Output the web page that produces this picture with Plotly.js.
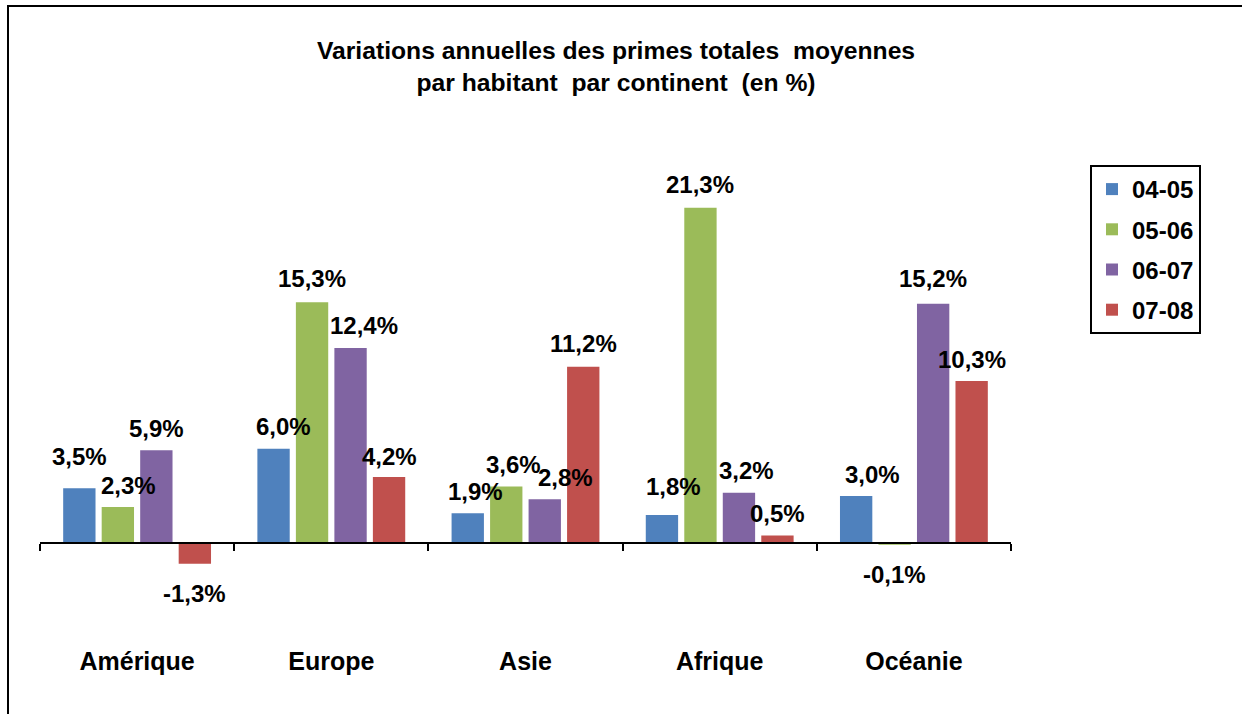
<!DOCTYPE html>
<html>
<head>
<meta charset="utf-8">
<script src="https://cdn.plot.ly/plotly-3.0.1.min.js"></script>
<style>
  html, body { margin: 0; padding: 0; overflow: hidden; background: #fff; }
  #wrap { position: relative; width: 1242px; height: 714px; }
  #chart { width: 1242px; height: 714px; }
  #frame { position: absolute; left: 7px; top: 5px; width: 1400px; height: 900px;
           border-left: 2px solid #000; border-top: 2px solid #000; pointer-events: none; }
</style>
</head>
<body>
<div id="wrap">
  <div id="chart"></div>
  <div id="frame"></div>
</div>
<script>
// ---- Data ----
const categories = ['Amérique', 'Europe', 'Asie', 'Afrique', 'Océanie'];
const seriesNames = ['04-05', '05-06', '06-07', '07-08'];
const v0405 = [3.5, 6.0, 1.9, 1.8, 3.0];
const v0506 = [2.3, 15.3, 3.6, 21.3, -0.1];
const v0607 = [5.9, 12.4, 2.8, 3.2, 15.2];
const v0708 = [-1.3, 4.2, 11.2, 0.5, 10.3];
const seriesValues = [v0405, v0506, v0607, v0708];

// ---- Styles ----
const colors = ['#4F81BD', '#9BBB59', '#8064A2', '#C0504D'];
const FONT = 'Arial, "Liberation Sans", sans-serif';
const FS = 24;

// label nudges (px) to mimic the hand-placed data labels: [series][category] -> [dx, dy]
const labelNudge = [
  [[0, 10], [10, 0], [8, 0], [12, 6], [16, 0]],
  [[11, 0], [0, 2], [7, 0], [0, 1], [0, 0]],
  [[0, 0], [13, 0], [21, 0], [8, 0], [0, 3]],
  [[0, 0], [0, -1], [0, 1], [0, 0], [0, 0]]
];

const fmt = v => v.toFixed(1).replace('.', ',') + '%';

const traces = seriesNames.map((name, s) => ({
  type: 'bar',
  name: name,
  x: categories,
  y: seriesValues[s],
  marker: { color: colors[s], line: { width: 0 } },
  legendgroup: 'g' + s,
  hoverinfo: 'skip'
}));

const Y_MIN = -5, Y_MAX = 23;
const SLOT = 38.5; // px between neighbouring bars of a group

const annotations = [];
seriesValues.forEach((vals, s) => {
  vals.forEach((v, c) => {
    const [dx, dy] = labelNudge[s][c];
    annotations.push({
      x: categories[c], y: v, xref: 'x', yref: 'y',
      text: fmt(v), showarrow: false,
      xanchor: 'center', yanchor: 'middle',
      xshift: (s - 1.5) * SLOT + dx,
      yshift: (v >= 0 ? 22 : -30) + dy,
      font: { family: FONT, size: FS, color: '#000', weight: 'bold' }
    });
  });
});

const layout = {
  width: 1242, height: 714,
  paper_bgcolor: '#fff', plot_bgcolor: '#fff',
  margin: { l: 40, r: 231, t: 181, b: 92 },
  barmode: 'group', bargap: 0.207, bargroupgap: 0.16,
  title: {
    text: 'Variations annuelles des primes totales  moyennes<br>par habitant  par continent  (en %)',
    font: { family: FONT, size: 24.7, color: '#000', weight: 'bold' },
    x: 616 / 1242, xanchor: 'center', xref: 'container',
    y: 1 - 59 / 714, yanchor: 'top', yref: 'container'
  },
  xaxis: {
    type: 'category', range: [-0.5, 4.5],
    anchor: 'free', position: (0 - Y_MIN) / (Y_MAX - Y_MIN),
    showline: true, linecolor: '#000', linewidth: 2,
    ticks: 'outside', tickson: 'boundaries', ticklen: 7, tickwidth: 2, tickcolor: '#000',
    ticklabelstandoff: 96,
    tickfont: { family: FONT, size: 25, color: '#000', weight: 'bold' },
    showgrid: false, zeroline: false, fixedrange: true
  },
  yaxis: {
    range: [Y_MIN, Y_MAX], visible: false, showgrid: false, zeroline: false, fixedrange: true
  },
  showlegend: true,
  legend: {
    xref: 'container', yref: 'container',
    x: 1090 / 1242, y: 1 - 165 / 714, xanchor: 'left', yanchor: 'top',
    bordercolor: '#000', borderwidth: 2, bgcolor: '#fff',
    font: { family: FONT, size: FS, color: '#000', weight: 'bold' },
    tracegroupgap: 6, traceorder: 'grouped', itemwidth: 30
  },
  annotations: annotations
};

Plotly.newPlot('chart', traces, layout, { displayModeBar: false, staticPlot: true });
</script>
</body>
</html>
